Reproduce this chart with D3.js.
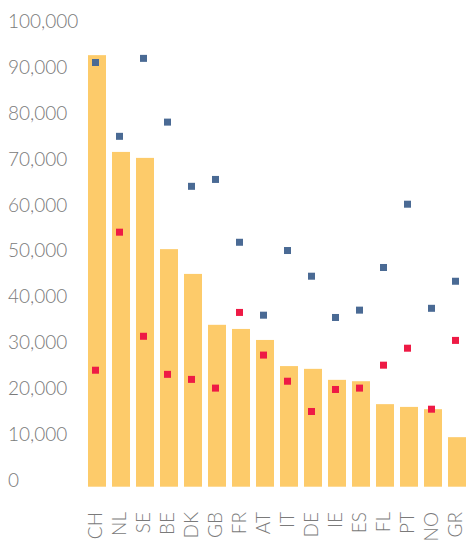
<!DOCTYPE html>
<html>
<head>
<meta charset="utf-8">
<script src="https://cdn.jsdelivr.net/npm/d3@7"></script>
<style>
  body { margin: 0; background: #fff; }
  text { font-family: Lato, "Open Sans", sans-serif; font-weight: 300; }
</style>
</head>
<body>
<div id="chart"></div>
<script>
// countries, bar values and the two marker series
var countries = ["CH", "NL", "SE", "BE", "DK", "GB", "FR", "AT", "IT", "DE", "IE", "ES", "FL", "PT", "NO", "GR"];
var barValues = [94100, 73000, 71700, 51800, 46400, 35300, 34400, 32000, 26300, 25700, 23300, 23000, 18000, 17400, 16900, 10800];
var blueValues = [92500, 76400, 93400, 79500, 65500, 67000, 53300, 37400, 51500, 45900, 36900, 38500, 47800, 61600, 38900, 44800];
var redValues = [25400, 55500, 32800, 24500, 23400, 21500, 38000, 28700, 23000, 16400, 21200, 21500, 26500, 30200, 16900, 31900];
var yTicks = [0, 10000, 20000, 30000, 40000, 50000, 60000, 70000, 80000, 90000, 100000];

var width = 470, height = 544;

var svg = d3.select("#chart").append("svg")
    .attr("width", width)
    .attr("height", height);

var x = d3.scaleBand()
    .domain(countries)
    .range([85, 469])
    .paddingInner(0.25)
    .paddingOuter(0.125);

var y = d3.scaleLinear()
    .domain([0, 100000])
    .range([486.7, 28.1]);

var fmt = d3.format(",");

// y labels, left aligned, baseline on the value
svg.append("g").selectAll("text")
    .data(yTicks)
    .enter().append("text")
    .attr("x", 8)
    .attr("y", function (d) { return y(d); })
    .style("fill", "#7a7a7a")
    .style("font-size", "19px")
    .text(function (d) { return fmt(d); });

// bars
svg.append("g").selectAll("rect")
    .data(barValues)
    .enter().append("rect")
    .attr("x", function (d, i) { return x(countries[i]); })
    .attr("y", function (d) { return y(d); })
    .attr("width", x.bandwidth())
    .attr("height", function (d) { return y(0) - y(d); })
    .style("fill", "#fdcb6a");

var s = 7;
function markers(data, color) {
    svg.append("g").selectAll("rect")
        .data(data)
        .enter().append("rect")
        .attr("x", function (d, i) { return x(countries[i]) + x.bandwidth() / 2 - 1.5 - s / 2; })
        .attr("y", function (d) { return y(d) - s / 2; })
        .attr("width", s)
        .attr("height", s)
        .style("fill", color);
}
markers(blueValues, "#4a6a94");
markers(redValues, "#ee1a45");

// x labels, rotated
svg.append("g").selectAll("text")
    .data(countries)
    .enter().append("text")
    .attr("transform", function (d) {
        return "translate(" + (x(d) + x.bandwidth() / 2 + 4.5) + ",512) rotate(-90)";
    })
    .attr("text-anchor", "end")
    .style("fill", "#7a7a7a")
    .style("font-size", "19px")
    .text(function (d) { return d; });
</script>
</body>
</html>
